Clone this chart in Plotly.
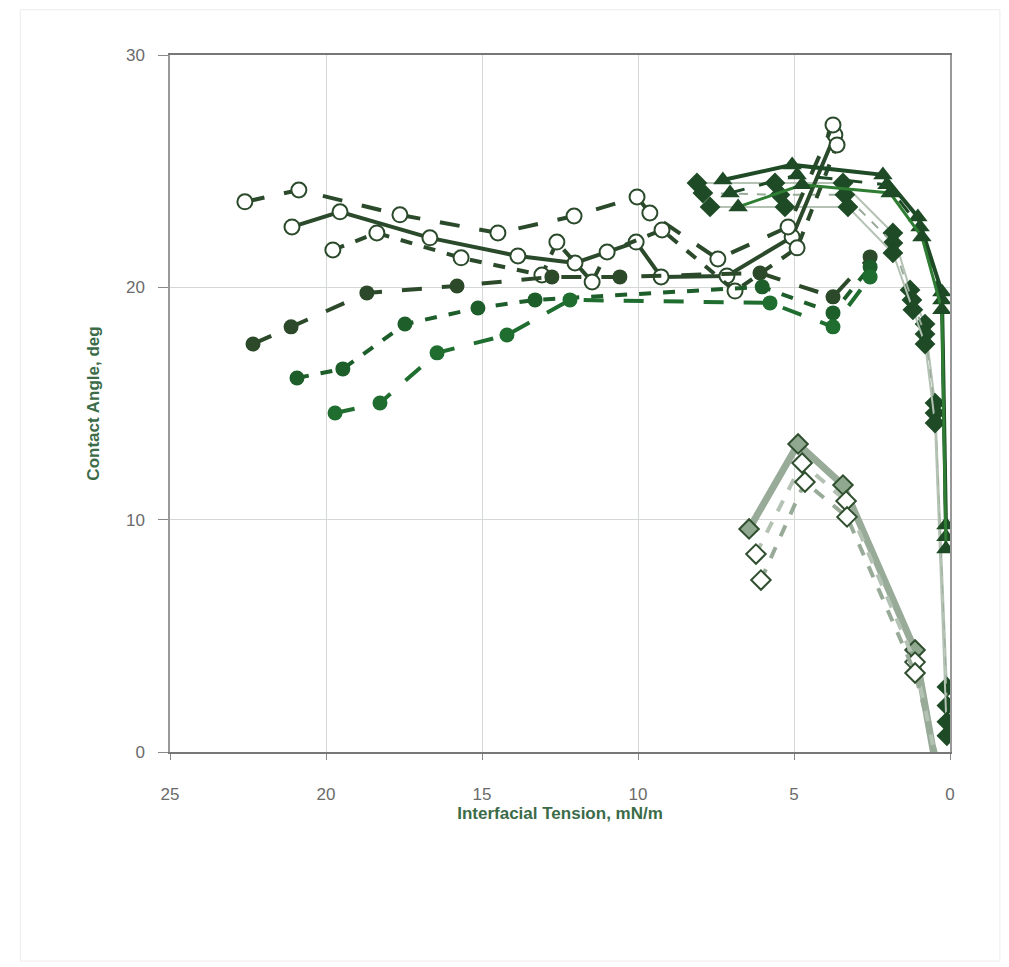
import plotly.graph_objects as go

# ---- data ----
# open circles
o1_x = [21.09, 19.55, 16.67, 13.85, 12.02, 10.06, 9.26, 7.15, 5.06, 3.69]
o1_y = [22.60, 23.25, 22.13, 21.35, 21.05, 21.95, 20.45, 20.49, 22.17, 26.56]
o2_x = [22.60, 20.87, 17.63, 14.49, 12.05, 10.03, 9.62, 7.44, 5.19, 3.75]
o2_y = [23.68, 24.19, 23.12, 22.34, 23.07, 23.89, 23.20, 21.22, 22.60, 26.99]
o3_x = [19.78, 18.37, 15.67, 13.08, 12.60, 11.47, 10.99, 9.23, 6.89, 4.90, 3.62]
o3_y = [21.61, 22.34, 21.27, 20.53, 21.95, 20.23, 21.52, 22.47, 19.84, 21.70, 26.13]

# filled circles
f1_x = [22.34, 21.12, 18.69, 15.80, 12.76, 10.58, 6.09, 3.75, 2.56]
f1_y = [17.56, 18.30, 19.76, 20.06, 20.45, 20.45, 20.62, 19.59, 21.31]
f2_x = [20.93, 19.46, 17.47, 15.13, 13.30, 6.02, 3.75, 2.56]
f2_y = [16.10, 16.49, 18.42, 19.11, 19.46, 20.02, 18.90, 20.88]
f3_x = [19.71, 18.27, 16.44, 14.20, 12.18, 5.77, 3.75, 2.56]
f3_y = [14.59, 15.02, 17.18, 17.95, 19.46, 19.33, 18.30, 20.45]

# filled diamonds
d1_x = [8.11, 5.61, 3.43, 1.83, 1.28, 0.80, 0.48, 0.10]
d1_y = [24.49, 24.49, 24.49, 22.34, 19.89, 18.42, 15.02, 2.80]
d2_x = [7.92, 5.45, 3.37, 1.83, 1.22, 0.80, 0.48, 0.10]
d2_y = [24.06, 23.98, 23.98, 21.91, 19.46, 17.99, 14.59, 2.00]
d3_x = [7.69, 5.29, 3.27, 1.83, 1.19, 0.80, 0.48, 0.10, 0.10]
d3_y = [23.46, 23.46, 23.46, 21.48, 19.03, 17.56, 14.16, 1.30, 0.70]

# filled triangles
t1_x = [7.28, 5.06, 2.15, 1.03, 0.26, 0.13]
t1_y = [24.62, 25.27, 24.84, 23.03, 19.80, 9.77]
t2_x = [7.05, 4.90, 2.02, 0.96, 0.26, 0.13]
t2_y = [24.06, 24.84, 24.41, 22.60, 19.46, 9.26]
t3_x = [6.79, 4.74, 1.92, 0.90, 0.26, 0.13]
t3_y = [23.46, 24.41, 24.06, 22.17, 19.03, 8.74]

# open diamonds (grey)
g1_x = [6.44, 4.87, 3.43, 1.12, 0.45]
g1_y = [9.60, 13.26, 11.49, 4.39, -0.6]
g2_x = [6.22, 4.74, 3.33, 1.12, 0.40]
g2_y = [8.52, 12.44, 10.80, 3.87, -0.6]
g3_x = [6.06, 4.65, 3.30, 1.12, 0.35]
g3_y = [7.40, 11.62, 10.12, 3.40, -0.6]

x_ticks = [25, 20, 15, 10, 5, 0]
y_ticks = [0, 10, 20, 30]

DARK = "#2b4a2b"
DK2 = "#1e4a26"
FILL = ["#2c4a2a", "#1d5e2a", "#1f6e30"]
GREY = "#98aa98"
GREY2 = "#b4c2b4"
TITLE = "#3b6b47"

fig = go.Figure()

# grey open diamond series
fig.add_trace(go.Scatter(x=g1_x, y=g1_y, mode="lines+markers",
    line=dict(color=GREY, width=7),
    marker=dict(symbol="diamond", size=15, color="#8fa88f",
                line=dict(color="#2f4f2f", width=2))))
fig.add_trace(go.Scatter(x=g2_x, y=g2_y, mode="lines+markers",
    line=dict(color=GREY2, width=4, dash="dash"),
    marker=dict(symbol="diamond", size=15, color="white",
                line=dict(color="#2f4f2f", width=2))))
fig.add_trace(go.Scatter(x=g3_x, y=g3_y, mode="lines+markers",
    line=dict(color=GREY, width=4, dash="dash"),
    marker=dict(symbol="diamond", size=15, color="white",
                line=dict(color="#2f4f2f", width=2))))

# diamonds
fig.add_trace(go.Scatter(x=d1_x, y=d1_y, mode="lines+markers",
    line=dict(color=GREY2, width=2),
    marker=dict(symbol="diamond", size=16, color=DK2)))
fig.add_trace(go.Scatter(x=d2_x, y=d2_y, mode="lines+markers",
    line=dict(color=GREY, width=2, dash="dash"),
    marker=dict(symbol="diamond", size=16, color=DK2)))
fig.add_trace(go.Scatter(x=d3_x, y=d3_y, mode="lines+markers",
    line=dict(color=GREY2, width=2),
    marker=dict(symbol="diamond", size=16, color=DK2)))

# open circles
fig.add_trace(go.Scatter(x=o1_x, y=o1_y, mode="lines+markers",
    line=dict(color=DARK, width=4),
    marker=dict(symbol="circle", size=15, color="white",
                line=dict(color=DARK, width=2))))
fig.add_trace(go.Scatter(x=o2_x, y=o2_y, mode="lines+markers",
    line=dict(color=DARK, width=4, dash="longdash"),
    marker=dict(symbol="circle", size=15, color="white",
                line=dict(color=DARK, width=2))))
fig.add_trace(go.Scatter(x=o3_x, y=o3_y, mode="lines+markers",
    line=dict(color=DARK, width=4, dash="dash"),
    marker=dict(symbol="circle", size=15, color="white",
                line=dict(color=DARK, width=2))))

# filled circles
for xs, ys, c, d in [(f1_x, f1_y, FILL[0], "longdash"),
                     (f2_x, f2_y, FILL[1], "dash"),
                     (f3_x, f3_y, FILL[2], "longdash")]:
    fig.add_trace(go.Scatter(x=xs, y=ys, mode="lines+markers",
        line=dict(color=c, width=4, dash=d),
        marker=dict(symbol="circle", size=15, color=c)))

# triangles
fig.add_trace(go.Scatter(x=t1_x, y=t1_y, mode="lines+markers",
    line=dict(color=DK2, width=4),
    marker=dict(symbol="triangle-up", size=17, color=DK2)))
fig.add_trace(go.Scatter(x=t2_x, y=t2_y, mode="lines+markers",
    line=dict(color=DK2, width=3, dash="longdash"),
    marker=dict(symbol="triangle-up", size=17, color=DK2)))
fig.add_trace(go.Scatter(x=t3_x, y=t3_y, mode="lines+markers",
    line=dict(color="#2e7d32", width=3),
    marker=dict(symbol="triangle-up", size=17, color=DK2)))

axis_font = dict(family="Liberation Sans, Arial, sans-serif", size=17, color="#6b6b6b")
title_font = dict(family="Liberation Sans, Arial, sans-serif", size=17, color=TITLE, weight="bold")

fig.update_layout(
    width=1001, height=959,
    margin=dict(l=162, r=59, t=47, b=215),
    paper_bgcolor="white", plot_bgcolor="white",
    showlegend=False,
    xaxis=dict(range=[25, 0], tickvals=x_ticks, ticks="outside", ticklen=6,
               tickcolor="#888", showgrid=True, gridcolor="#d4d8d4", gridwidth=1,
               zeroline=False, showline=True, linecolor="#777", linewidth=1.5,
               mirror=True, tickfont=axis_font, ticklabelstandoff=20,
               title=dict(text="Interfacial Tension, mN/m", font=title_font, standoff=0)),
    yaxis=dict(range=[0, 30], tickvals=y_ticks, ticks="outside", ticklen=10,
               tickcolor="#888", showgrid=True, gridcolor="#d4d8d4", gridwidth=1,
               zeroline=False, showline=True, linecolor="#999", linewidth=1.5,
               mirror=True, tickfont=axis_font, ticklabelstandoff=10,
               title=dict(text="Contact Angle, deg", font=title_font, standoff=22)),
)

fig.add_shape(type="rect", xref="paper", yref="paper", x0=-0.192, x1=1.064, y0=-0.3, y1=1.065,
              line=dict(color="#ebedeb", width=1))

fig.write_html("out.html")
